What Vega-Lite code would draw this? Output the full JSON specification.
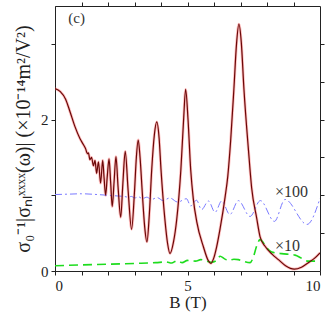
{
  "$schema": "https://vega.github.io/schema/vega-lite/v6.json",
  "width": 265,
  "height": 265,
  "autosize": {"type": "none"},
  "padding": {"left": 55, "top": 6, "right": 8, "bottom": 44},
  "background": "white",
  "config": {
    "view": {"stroke": "#222", "strokeWidth": 1},
    "font": "Liberation Serif",
    "axis": {"grid": false, "domainColor": "#222", "tickColor": "#222", "labelColor": "#222", "titleColor": "#222", "labelFont": "Liberation Serif", "titleFont": "Liberation Serif", "labelFontSize": 15, "titleFontSize": 15, "titleFontWeight": "normal", "tickSize": 4, "labelPadding": 3}
  },
  "datasets": {
    "main": [
      {"B": 0.0, "v": 2.41}, {"B": 0.2, "v": 2.37}, {"B": 0.4, "v": 2.27}, {"B": 0.57, "v": 2.10},
      {"B": 0.75, "v": 1.91}, {"B": 0.94, "v": 1.75}, {"B": 1.07, "v": 1.67}, {"B": 1.16, "v": 1.61},
      {"B": 1.22, "v": 1.55}, {"B": 1.26, "v": 1.56}, {"B": 1.32, "v": 1.47}, {"B": 1.38, "v": 1.50},
      {"B": 1.45, "v": 1.39}, {"B": 1.51, "v": 1.46}, {"B": 1.57, "v": 1.29}, {"B": 1.64, "v": 1.44},
      {"B": 1.72, "v": 1.16}, {"B": 1.80, "v": 1.46}, {"B": 1.85, "v": 1.24}, {"B": 1.91, "v": 1.0},
      {"B": 1.97, "v": 1.24}, {"B": 2.04, "v": 1.48}, {"B": 2.10, "v": 1.17}, {"B": 2.16, "v": 0.85},
      {"B": 2.23, "v": 1.18}, {"B": 2.30, "v": 1.51}, {"B": 2.38, "v": 1.11}, {"B": 2.48, "v": 0.71},
      {"B": 2.56, "v": 1.15}, {"B": 2.65, "v": 1.58}, {"B": 2.76, "v": 1.06}, {"B": 2.89, "v": 0.55},
      {"B": 3.00, "v": 1.05}, {"B": 3.07, "v": 1.50}, {"B": 3.14, "v": 1.73}, {"B": 3.21, "v": 1.50},
      {"B": 3.30, "v": 1.00}, {"B": 3.38, "v": 0.60}, {"B": 3.47, "v": 0.385}, {"B": 3.56, "v": 0.75},
      {"B": 3.65, "v": 1.34}, {"B": 3.75, "v": 1.80}, {"B": 3.84, "v": 1.97}, {"B": 3.93, "v": 1.75},
      {"B": 4.00, "v": 1.34}, {"B": 4.15, "v": 0.67}, {"B": 4.25, "v": 0.36}, {"B": 4.34, "v": 0.23},
      {"B": 4.47, "v": 0.38}, {"B": 4.59, "v": 0.67}, {"B": 4.75, "v": 1.34}, {"B": 4.85, "v": 1.98},
      {"B": 4.93, "v": 2.40}, {"B": 5.02, "v": 2.0}, {"B": 5.12, "v": 1.34}, {"B": 5.22, "v": 0.95},
      {"B": 5.35, "v": 0.65}, {"B": 5.6, "v": 0.32}, {"B": 5.78, "v": 0.14}, {"B": 5.88, "v": 0.10},
      {"B": 5.98, "v": 0.16}, {"B": 6.1, "v": 0.32},
      {"B": 6.23, "v": 0.56}, {"B": 6.42, "v": 0.98}, {"B": 6.52, "v": 1.25}, {"B": 6.63, "v": 1.73},
      {"B": 6.75, "v": 2.40}, {"B": 6.85, "v": 3.0}, {"B": 6.94, "v": 3.26}, {"B": 7.03, "v": 3.02},
      {"B": 7.13, "v": 2.40}, {"B": 7.30, "v": 1.60}, {"B": 7.42, "v": 1.10}, {"B": 7.61, "v": 0.70},
      {"B": 7.74, "v": 0.45}, {"B": 7.92, "v": 0.33}, {"B": 8.2, "v": 0.22}, {"B": 8.43, "v": 0.15},
      {"B": 8.7, "v": 0.07}, {"B": 9.03, "v": 0.025}, {"B": 9.3, "v": 0.05}, {"B": 9.56, "v": 0.11},
      {"B": 9.8, "v": 0.17}, {"B": 10.0, "v": 0.24}
    ],
    "blue": [
      {"B": 0.0, "v": 1.01}, {"B": 0.5, "v": 1.015}, {"B": 1.0, "v": 1.02}, {"B": 1.5, "v": 1.012},
      {"B": 2.0, "v": 1.0}, {"B": 2.4, "v": 0.99}, {"B": 2.6, "v": 0.985}, {"B": 2.77, "v": 0.975},
      {"B": 2.88, "v": 0.985}, {"B": 3.01, "v": 0.965}, {"B": 3.15, "v": 0.98}, {"B": 3.30, "v": 0.955},
      {"B": 3.46, "v": 0.975}, {"B": 3.65, "v": 0.945}, {"B": 3.85, "v": 0.97}, {"B": 4.08, "v": 0.93},
      {"B": 4.33, "v": 0.965}, {"B": 4.63, "v": 0.91}, {"B": 4.96, "v": 0.955}, {"B": 5.12, "v": 0.86},
      {"B": 5.34, "v": 0.935}, {"B": 5.53, "v": 0.81}, {"B": 5.79, "v": 0.925}, {"B": 6.04, "v": 0.775},
      {"B": 6.29, "v": 0.925}, {"B": 6.60, "v": 0.745}, {"B": 6.92, "v": 0.93}, {"B": 7.36, "v": 0.72},
      {"B": 7.75, "v": 0.93}, {"B": 8.28, "v": 0.655}, {"B": 8.68, "v": 0.945}, {"B": 9.51, "v": 0.615},
      {"B": 10.0, "v": 0.96}
    ],
    "green": [
      {"B": 0.0, "v": 0.07}, {"B": 1.0, "v": 0.08}, {"B": 2.0, "v": 0.09}, {"B": 3.0, "v": 0.10},
      {"B": 3.8, "v": 0.11}, {"B": 4.2, "v": 0.12}, {"B": 4.4, "v": 0.105}, {"B": 4.6, "v": 0.135},
      {"B": 4.8, "v": 0.11}, {"B": 5.0, "v": 0.14}, {"B": 5.3, "v": 0.13}, {"B": 5.5, "v": 0.15},
      {"B": 5.91, "v": 0.115}, {"B": 6.1, "v": 0.14}, {"B": 6.23, "v": 0.195}, {"B": 6.4, "v": 0.16},
      {"B": 6.54, "v": 0.14}, {"B": 6.75, "v": 0.155}, {"B": 6.92, "v": 0.15}, {"B": 7.1, "v": 0.13},
      {"B": 7.36, "v": 0.11}, {"B": 7.5, "v": 0.2}, {"B": 7.6, "v": 0.32}, {"B": 7.74, "v": 0.415},
      {"B": 7.85, "v": 0.38}, {"B": 7.92, "v": 0.34}, {"B": 8.18, "v": 0.25}, {"B": 8.55, "v": 0.23},
      {"B": 9.06, "v": 0.21}, {"B": 9.3, "v": 0.17}, {"B": 9.56, "v": 0.13}, {"B": 10.0, "v": 0.13}
    ],
    "labels": [
      {"B": 8.3, "v": 0.98, "t": "×100", "s": 16},
      {"B": 8.3, "v": 0.265, "t": "×10", "s": 16},
      {"B": 0.5, "v": 3.27, "t": "(c)", "s": 15}
    ]
  },
  "resolve": {"axis": {"x": "independent", "y": "independent"}},
  "layer": [
    {
      "data": {"name": "main"},
      "mark": {"type": "line", "color": "#ff7070", "strokeWidth": 2.8, "opacity": 0.45, "interpolate": "monotone", "clip": true},
      "encoding": {
        "x": {"field": "B", "type": "quantitative", "scale": {"domain": [0, 10], "nice": false}, "axis": {"orient": "top", "values": [1, 2, 3, 4, 5, 6, 7, 8, 9], "labels": false, "title": null, "domain": false}},
        "y": {"field": "v", "type": "quantitative", "scale": {"domain": [0, 3.5], "nice": false, "zero": false}, "axis": {"orient": "right", "values": [0.5, 1, 1.5, 2, 2.5, 3], "labels": false, "title": null, "domain": false}}
      }
    },
    {
      "data": {"name": "blue"},
      "mark": {"type": "line", "color": "#7a7aff", "strokeWidth": 1, "strokeDash": [7, 3, 2, 3], "interpolate": "monotone", "clip": true},
      "encoding": {
        "x": {"field": "B", "type": "quantitative", "axis": null},
        "y": {"field": "v", "type": "quantitative", "axis": null}
      }
    },
    {
      "data": {"name": "green"},
      "mark": {"type": "line", "color": "#1edc1e", "strokeWidth": 1.6, "strokeDash": [9, 5], "interpolate": "monotone", "clip": true},
      "encoding": {
        "x": {"field": "B", "type": "quantitative", "axis": null},
        "y": {"field": "v", "type": "quantitative", "axis": null}
      }
    },
    {
      "data": {"name": "main"},
      "mark": {"type": "line", "color": "#6a0808", "strokeWidth": 1.2, "interpolate": "monotone", "clip": true},
      "encoding": {
        "x": {"field": "B", "type": "quantitative", "axis": {"orient": "bottom", "values": [0, 1, 2, 3, 4, 5, 6, 7, 8, 9, 10], "labelExpr": "datum.value % 5 === 0 ? datum.label : ''", "title": "B (T)", "titleFontSize": 17, "titlePadding": 1}},
        "y": {"field": "v", "type": "quantitative", "axis": {"orient": "left", "values": [0, 0.5, 1, 1.5, 2, 2.5, 3, 3.5], "format": "d", "labelExpr": "datum.value % 2 === 0 ? datum.label : ''", "title": "σ₀⁻¹|σₙₗˣˣˣˣ(ω)| (×10⁻¹⁴m²/V²)", "titleFontSize": 20, "titlePadding": 7}}
      }
    },
    {
      "data": {"name": "labels"},
      "mark": {"type": "text", "align": "left", "baseline": "alphabetic", "font": "Liberation Serif", "color": "#333"},
      "encoding": {
        "x": {"field": "B", "type": "quantitative", "axis": null},
        "y": {"field": "v", "type": "quantitative", "axis": null},
        "text": {"field": "t"},
        "size": {"field": "s", "type": "quantitative", "scale": null}
      }
    }
  ]
}
